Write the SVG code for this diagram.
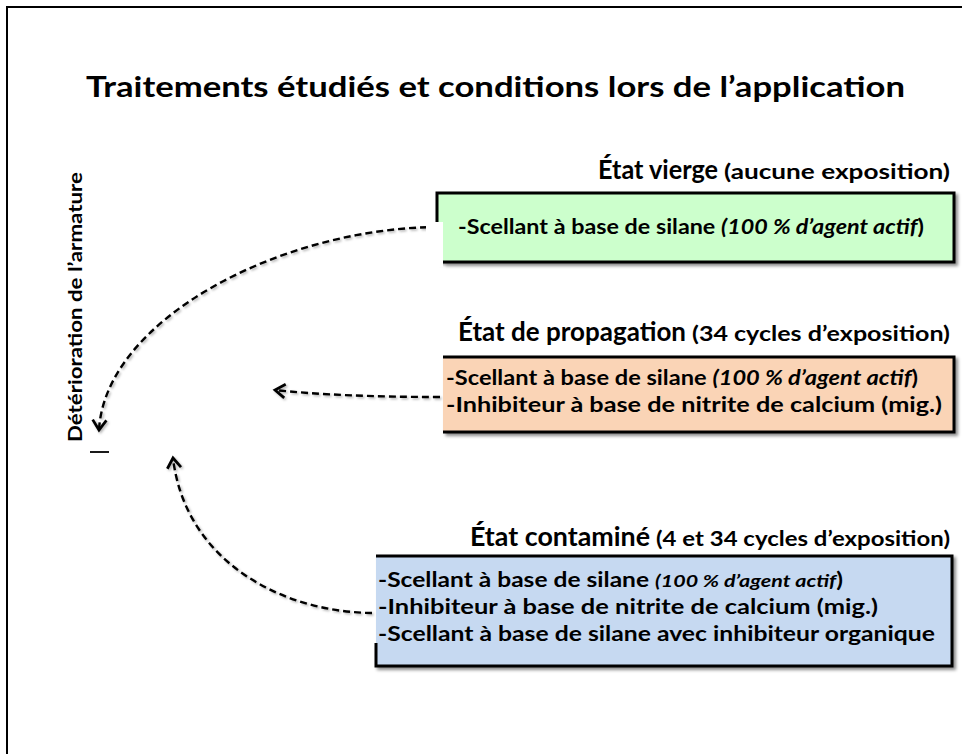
<svg xmlns="http://www.w3.org/2000/svg" width="969" height="754" viewBox="0 0 969 754">
<style>
  .t{font-family:Lato,"Open Sans","Liberation Sans",sans-serif;font-weight:bold;fill:#000}
  .it{font-style:italic}
  .h{font-size:26px}
  .s{font-size:20px}
  .b{font-size:20px}
  .conn{fill:none;stroke:#000;stroke-width:2.4;stroke-dasharray:7 4}
  .frame{stroke:#000;stroke-width:2;fill:none}
  .edge{fill:none;stroke:#000;stroke-width:3}
</style>
<defs>
  <marker id="arr" markerUnits="userSpaceOnUse" markerWidth="20" markerHeight="20" viewBox="-12 -8 16 16" refX="0" refY="0" orient="auto">
    <path d="M-8,-5.5 L0,0 L-8,5.5" fill="none" stroke="#000" stroke-width="2.2" stroke-linejoin="miter"/>
  </marker>
  <filter id="sh" x="-5%" y="-10%" width="115%" height="130%">
    <feDropShadow dx="2.5" dy="2.5" stdDeviation="1.5" flood-color="#000" flood-opacity="0.45"/>
  </filter>
  <filter id="lsh" x="-5%" y="-5%" width="115%" height="115%">
    <feDropShadow dx="1.5" dy="1.5" stdDeviation="1" flood-color="#000" flood-opacity="0.3"/>
  </filter>
</defs>
<rect width="969" height="754" fill="#fff"/>
<path class="frame" d="M7,754 L7,7 L962,7"/>

<g id="title">
  <text class="t" x="86" y="97" font-size="28.5" textLength="819" lengthAdjust="spacingAndGlyphs">Traitements étudiés et conditions lors de l’application</text>
</g>

<g id="axis-label">
  <text class="t" transform="translate(82,442) rotate(-90)" x="0" y="0" font-size="18.5" textLength="270" lengthAdjust="spacingAndGlyphs">Détérioration de l’armature</text>
  <line x1="90" y1="452" x2="109" y2="452" stroke="#000" stroke-width="1.8"/>
</g>

<g id="connectors" filter="url(#lsh)">
  <path class="conn" d="M438,227 C280,228 105,320 99,430" marker-end="url(#arr)"/>
  <path class="conn" d="M440,397 Q340,397 275,390" marker-end="url(#arr)"/>
  <path class="conn" d="M372,613 C280,612 185,560 173,458" marker-end="url(#arr)"/>
</g>

<g id="etat-vierge">
  <text class="t h" x="598" y="179" textLength="120" lengthAdjust="spacingAndGlyphs">État vierge</text>
  <text class="t s" x="724" y="179" textLength="226" lengthAdjust="spacingAndGlyphs">(aucune exposition)</text>
  <g filter="url(#sh)">
    <rect x="437" y="193" width="517" height="69" fill="#CCFFCC"/>
    <path class="edge" d="M437,222 L437,193 L954,193 L954,262 L443,262"/>
  </g>
  <rect x="426" y="222" width="17" height="45" fill="#fff"/>
  <text class="t b" x="458" y="234" textLength="466" lengthAdjust="spacingAndGlyphs">-Scellant à base de silane <tspan class="it">(100 % d’agent actif</tspan>)</text>
</g>

<g id="etat-propagation">
  <text class="t h" x="458" y="341" textLength="228" lengthAdjust="spacingAndGlyphs">État de propagation</text>
  <text class="t s" x="692" y="341" textLength="258" lengthAdjust="spacingAndGlyphs">(34 cycles d’exposition)</text>
  <g filter="url(#sh)">
    <rect x="443" y="357" width="511" height="75" fill="#FAD4B6"/>
    <path class="edge" d="M443,357 L954,357 L954,432 L443,432"/>
  </g>
  <text class="t b" x="446" y="385" textLength="472" lengthAdjust="spacingAndGlyphs">-Scellant à base de silane <tspan class="it">(100 % d’agent actif</tspan>)</text>
  <text class="t b" x="446" y="412" textLength="496" lengthAdjust="spacingAndGlyphs">-Inhibiteur à base de nitrite de calcium (mig.)</text>
</g>

<g id="etat-contamine">
  <text class="t h" x="470" y="546" textLength="180" lengthAdjust="spacingAndGlyphs">État contaminé</text>
  <text class="t s" x="656" y="546" textLength="294" lengthAdjust="spacingAndGlyphs">(4 et 34 cycles d’exposition)</text>
  <g filter="url(#sh)">
    <rect x="376" y="556" width="576" height="110" fill="#C6D9F1"/>
    <path class="edge" d="M376,556 L952,556 L952,666 L376,666 L376,643"/>
  </g>
  <text class="t b" x="378" y="587" textLength="465" lengthAdjust="spacingAndGlyphs">-Scellant à base de silane <tspan class="it" font-size="17.5">(100 % d’agent actif</tspan>)</text>
  <text class="t b" x="378" y="614" textLength="500" lengthAdjust="spacingAndGlyphs">-Inhibiteur à base de nitrite de calcium (mig.)</text>
  <text class="t b" x="378" y="641" textLength="557" lengthAdjust="spacingAndGlyphs">-Scellant à base de silane avec inhibiteur organique</text>
</g>
</svg>
